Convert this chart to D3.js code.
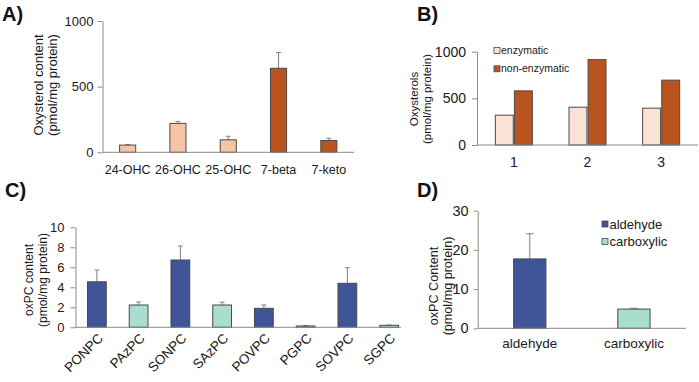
<!DOCTYPE html>
<html>
<head>
<meta charset="utf-8">
<script src="https://cdn.jsdelivr.net/npm/d3@7"></script>
<style>
  body { margin: 0; background: #fff; }
  svg { display: block; font-family: "Liberation Sans", Arial, sans-serif; }
</style>
</head>
<body>
<svg id="chart" width="699" height="382"></svg>
<script>
// Panel A - oxysterols
var oxyCats = ["24-OHC", "26-OHC", "25-OHC", "7-beta", "7-keto"];
var oxyValues = [55, 220, 95, 640, 90];
var oxyErrors = [3, 15, 27, 120, 17];
var oxyKind = ["enzymatic", "enzymatic", "enzymatic", "non-enzymatic", "non-enzymatic"];
var oxyTicks = [0, 500, 1000];

// Panel B - oxysterols by sample
var sampleCats = ["1", "2", "3"];
var seriesNames = ["enzymatic", "non-enzymatic"];
var enzymaticValues = [320, 405, 395];
var nonEnzymaticValues = [580, 915, 695];
var sampleTicks = [0, 500, 1000];

// Panel C - oxPC species
var pcCats = ["PONPC", "PAzPC", "SONPC", "SAzPC", "POVPC", "PGPC", "SOVPC", "SGPC"];
var pcValues = [4.55, 2.23, 6.73, 2.23, 1.9, 0.13, 4.4, 0.2];
var pcErrors = [1.18, 0.3, 1.4, 0.28, 0.33, 0.05, 1.56, 0.02];
var pcKind = ["aldehyde", "carboxylic", "aldehyde", "carboxylic", "aldehyde", "carboxylic", "aldehyde", "carboxylic"];
var pcTicks = [0, 2, 4, 6, 8, 10];

// Panel D - oxPC totals
var groupCats = ["aldehyde", "carboxylic"];
var groupValues = [17.7, 4.9];
var groupErrors = [6.4, 0.2];
var groupTicks = [0, 10, 20, 30];

var colors = {
    "enzymatic": "#f5c4a4",
    "enzymaticLight": "#fae3d5",
    "non-enzymatic": "#b9541f",
    "aldehyde": "#3f5597",
    "carboxylic": "#a8ddcf"
};
var barStroke = "#4a4a4a";
var errColor = "#808080";
var axisColor = "#8a8a8a";
var textColor = "#1a1a1a";

var svg = d3.select("#chart");

// draw y axis with left ticks
function yAxis(g, y, x0, ticks, fontSize, tickLen, pad) {
    var ax = g.append("g").attr("transform", "translate(" + x0 + ",0)")
        .call(d3.axisLeft(y).tickValues(ticks).tickFormat(d3.format("d"))
            .tickSize(tickLen).tickSizeOuter(0).tickPadding(pad));
    ax.select(".domain").attr("stroke", axisColor);
    ax.selectAll(".tick line").attr("stroke", axisColor);
    ax.selectAll(".tick text").attr("fill", textColor).style("font-size", fontSize + "px")
        .style("font-family", "Liberation Sans, Arial, sans-serif");
}

// x baseline at zero
function baseline(g, y, x0, x1) {
    g.append("line").attr("x1", x0).attr("x2", x1).attr("y1", y(0)).attr("y2", y(0))
        .attr("stroke", axisColor).attr("stroke-width", 1);
}

// two line rotated y title
function yTitle(g, lines, xs, cy, fontSize) {
    lines.forEach(function(t, i) {
        g.append("g").attr("transform", "translate(" + xs[i] + "," + cy + ") rotate(-90)")
            .append("text").attr("text-anchor", "middle").attr("fill", textColor)
            .style("font-size", fontSize + "px").text(t);
    });
}

function panelLabel(t, x, y) {
    svg.append("text").attr("x", x).attr("y", y).attr("fill", "#111")
        .style("font-size", "20px").style("font-weight", "bold").text(t);
}

// upper half error bars only
function errorBars(g, cats, vals, errs, x, y, cap) {
    cats.forEach(function(c, i) {
        var cx = x(c) + x.bandwidth() / 2;
        var top = y(vals[i] + errs[i]);
        g.append("line").attr("x1", cx).attr("x2", cx).attr("y1", y(vals[i])).attr("y2", top)
            .attr("stroke", errColor).attr("stroke-width", 1);
        g.append("line").attr("x1", cx - cap).attr("x2", cx + cap).attr("y1", top).attr("y2", top)
            .attr("stroke", errColor).attr("stroke-width", 1);
    });
}

// ---------- Panel A ----------
var gA = svg.append("g");
var xA = d3.scaleBand().domain(oxyCats).range([102.5, 354]).paddingInner(0.68).paddingOuter(0.34);
var yA = d3.scaleLinear().domain([0, 1000]).range([152.3, 21]);
errorBars(gA, oxyCats, oxyValues, oxyErrors, xA, yA, 2.5);
gA.selectAll("rect").data(oxyCats).enter().append("rect")
    .attr("x", function(d) { return xA(d); })
    .attr("width", xA.bandwidth())
    .attr("y", function(d, i) { return yA(oxyValues[i]); })
    .attr("height", function(d, i) { return yA(0) - yA(oxyValues[i]); })
    .attr("fill", function(d, i) { return colors[oxyKind[i]]; })
    .attr("stroke", barStroke).attr("stroke-width", 1);
yAxis(gA, yA, 102.5, oxyTicks, 13, 5, 4);
baseline(gA, yA, 102.5, 354);
gA.selectAll(".xlab").data(oxyCats).enter().append("text")
    .attr("x", function(d) { return xA(d) + xA.bandwidth() / 2; })
    .attr("y", 174).attr("text-anchor", "middle").attr("fill", textColor)
    .style("font-size", "12.5px").text(function(d) { return d; });
yTitle(gA, ["Oxysterol content", "(pmol/mg protein)"], [43, 57], 85, 13);
panelLabel("A)", 2, 21);

// ---------- Panel B ----------
var gB = svg.append("g");
var xB = d3.scaleBand().domain(sampleCats).range([477, 698]);
var xBs = d3.scaleBand().domain(seriesNames).range([0, 37]).paddingInner(0.06);
var yB = d3.scaleLinear().domain([0, 1000]).range([145, 51.7]);
var bData = [enzymaticValues, nonEnzymaticValues];
var bFill = [colors.enzymaticLight, colors["non-enzymatic"]];
sampleCats.forEach(function(c, i) {
    seriesNames.forEach(function(s, j) {
        gB.append("rect")
            .attr("x", xB(c) + xB.bandwidth() / 2 - 18.5 + xBs(s))
            .attr("width", xBs.bandwidth())
            .attr("y", yB(bData[j][i]))
            .attr("height", yB(0) - yB(bData[j][i]))
            .attr("fill", bFill[j]).attr("stroke", barStroke).attr("stroke-width", 1);
    });
});
yAxis(gB, yB, 477, sampleTicks, 14, 5, 6);
baseline(gB, yB, 477, 698);
gB.selectAll(".xlab").data(sampleCats).enter().append("text")
    .attr("x", function(d) { return xB(d) + xB.bandwidth() / 2; })
    .attr("y", 167).attr("text-anchor", "middle").attr("fill", textColor)
    .style("font-size", "14px").text(function(d) { return d; });
yTitle(gB, ["Oxysterols", "(pmol/mg protein)"], [417.5, 431], 99, 11.5);
seriesNames.forEach(function(s, j) {
    var ly = [47.5, 65.8][j];
    gB.append("rect").attr("x", 494).attr("y", ly).attr("width", 6).attr("height", 6)
        .attr("fill", bFill[j]).attr("stroke", barStroke).attr("stroke-width", 0.8);
    gB.append("text").attr("x", 501).attr("y", ly + 6.5).attr("fill", textColor)
        .style("font-size", "10.5px").text(s);
});
panelLabel("B)", 417, 21);

// ---------- Panel C ----------
var gC = svg.append("g");
var xC = d3.scaleBand().domain(pcCats).range([76, 410]).paddingInner(0.55).paddingOuter(0.275);
var yC = d3.scaleLinear().domain([0, 10]).range([327.3, 227.3]);
errorBars(gC, pcCats, pcValues, pcErrors, xC, yC, 2.5);
gC.selectAll("rect").data(pcCats).enter().append("rect")
    .attr("x", function(d) { return xC(d); })
    .attr("width", xC.bandwidth())
    .attr("y", function(d, i) { return yC(pcValues[i]); })
    .attr("height", function(d, i) { return yC(0) - yC(pcValues[i]); })
    .attr("fill", function(d, i) { return colors[pcKind[i]]; })
    .attr("stroke", barStroke).attr("stroke-width", 1);
yAxis(gC, yC, 75.5, pcTicks, 13, 5, 6);
baseline(gC, yC, 75.5, 401);
// slanted category labels
gC.selectAll(".xlab").data(pcCats).enter().append("g")
    .attr("class", "xlab")
    .attr("transform", function(d) {
        return "translate(" + (xC(d) + xC.bandwidth() / 2 + 7) + ",339) rotate(-45)";
    })
    .append("text")
    .attr("text-anchor", "end").attr("fill", textColor)
    .style("font-size", "13.5px").text(function(d) { return d; });
yTitle(gC, ["oxPC content", "(pmol/mg protein)"], [33, 46.5], 280, 12);
panelLabel("C)", 5, 197);

// ---------- Panel D ----------
var gD = svg.append("g");
var xD = d3.scaleBand().domain(groupCats).range([477.7, 686]).paddingInner(0.69).paddingOuter(0.345);
var yD = d3.scaleLinear().domain([0, 30]).range([328.3, 210.7]);
errorBars(gD, groupCats, groupValues, groupErrors, xD, yD, 4);
gD.selectAll("rect").data(groupCats).enter().append("rect")
    .attr("x", function(d) { return xD(d); })
    .attr("width", xD.bandwidth())
    .attr("y", function(d, i) { return yD(groupValues[i]); })
    .attr("height", function(d, i) { return yD(0) - yD(groupValues[i]); })
    .attr("fill", function(d) { return colors[d]; })
    .attr("stroke", barStroke).attr("stroke-width", 1);
yAxis(gD, yD, 477.7, groupTicks, 14.5, 4, 5);
baseline(gD, yD, 477.7, 686);
gD.selectAll(".xlab").data(groupCats).enter().append("text")
    .attr("x", function(d) { return xD(d) + xD.bandwidth() / 2; })
    .attr("y", 348).attr("text-anchor", "middle").attr("fill", textColor)
    .style("font-size", "13.5px").text(function(d) { return d; });
yTitle(gD, ["oxPC Content", "(pmol/mg protein)"], [438, 451.5], 286, 12.6);
groupCats.forEach(function(s, j) {
    var ly = [221, 238.5][j];
    gD.append("rect").attr("x", 602).attr("y", ly).attr("width", 6).attr("height", 6)
        .attr("fill", colors[s]).attr("stroke", barStroke).attr("stroke-width", 0.8);
    gD.append("text").attr("x", 609.5).attr("y", ly + 7.5).attr("fill", textColor)
        .style("font-size", "13px").text(s);
});
panelLabel("D)", 417, 197);
</script>
</body>
</html>
